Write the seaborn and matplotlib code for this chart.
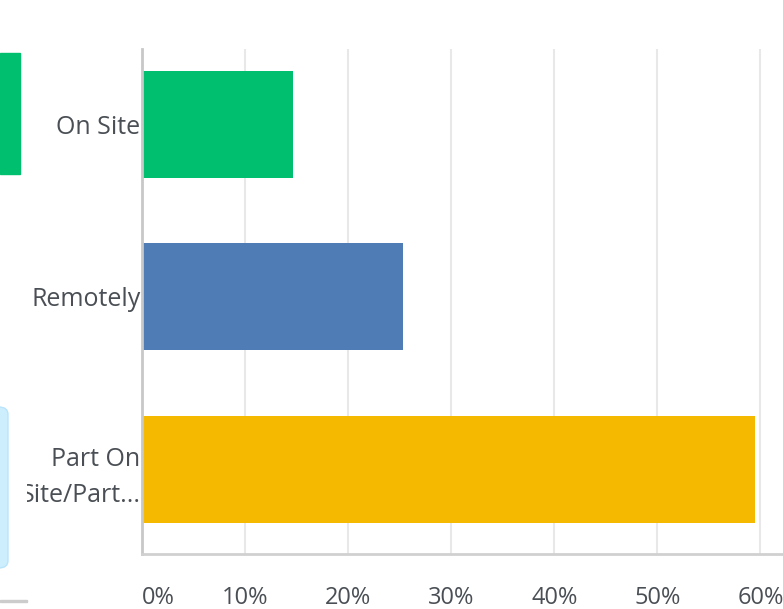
import matplotlib
matplotlib.use("Agg")
import matplotlib.pyplot as plt
import seaborn as sns
import pandas as pd
from matplotlib.patches import Rectangle, FancyBboxPatch
from matplotlib.transforms import Bbox, TransformedBbox, IdentityTransform

# answer choices and share of respondents (%)
choices = ["On Site", "Remotely", "Part On\nSite/Part..."]
percents = [14.7, 25.3, 59.5]
bar_colors = ["#00bf6f", "#507cb6", "#f5ba00"]
tick_values = [0, 10, 20, 30, 40, 50, 60]
tick_labels = ["0%", "10%", "20%", "30%", "40%", "50%", "60%"]

df = pd.DataFrame({"choice": choices, "percent": percents})

sns.set_style("white")
plt.rcParams["font.family"] = ["Open Sans", "DejaVu Sans"]

W, H = 783, 609
fig = plt.figure(figsize=(W / 100, H / 100), dpi=100)
ax = fig.add_axes([142 / W, 1 - 554 / H, 1 - 142 / W, (554 - 49) / H])

sns.barplot(data=df, x="percent", y="choice", hue="choice", palette=bar_colors,
            width=0.62, legend=False, ax=ax, saturation=1, edgecolor="none")

ax.set_xlim(0, 62.2)
ax.set_ylim(2.49, -0.435)
ax.set_xlabel("")
ax.set_ylabel("")

ax.set_xticks(tick_values)
ax.set_xticklabels(tick_labels)
ax.grid(axis="x", color="#e8e8e8", linewidth=1.5, zorder=0)
ax.set_axisbelow(True)

for side in ["top", "right"]:
    ax.spines[side].set_visible(False)
ax.spines["left"].set_color("#c8c8c8")
ax.spines["left"].set_linewidth(2)
ax.spines["bottom"].set_color("#d0d0d0")
ax.spines["bottom"].set_linewidth(2)

ax.tick_params(axis="x", length=0, pad=23, labelsize=17, labelcolor="#4a4f55")
ax.tick_params(axis="y", length=0, pad=1, labelsize=18, labelcolor="#4a4f55")
# first label sits to the right of the axis line
ax.get_xticklabels()[0].set_ha("left")

# labels are cut off on the left side of the panel
clip = TransformedBbox(Bbox([[27, 0], [W, H]]), IdentityTransform())
for lab in ax.get_yticklabels():
    lab.set_linespacing(1.55)
    lab.set_clip_box(clip)
    lab.set_clip_on(True)

# pieces of the neighbouring panel visible at the left edge
fig.patches.append(Rectangle((0, 1 - 174 / H), 20 / W, (174 - 53) / H,
                             transform=fig.transFigure, color="#00bf6f"))
fig.patches.append(FancyBboxPatch((-20 / W, 1 - 568 / H), 28 / W, (568 - 407) / H,
                                  boxstyle="round,pad=0,rounding_size=0.012",
                                  transform=fig.transFigure, facecolor="#cdeefd",
                                  edgecolor="#b9e4fb", linewidth=1))
fig.patches.append(Rectangle((0, 1 - 602 / H), 27 / W, 2 / H,
                             transform=fig.transFigure, color="#cccccc"))

fig.savefig("out.png", dpi=100)
